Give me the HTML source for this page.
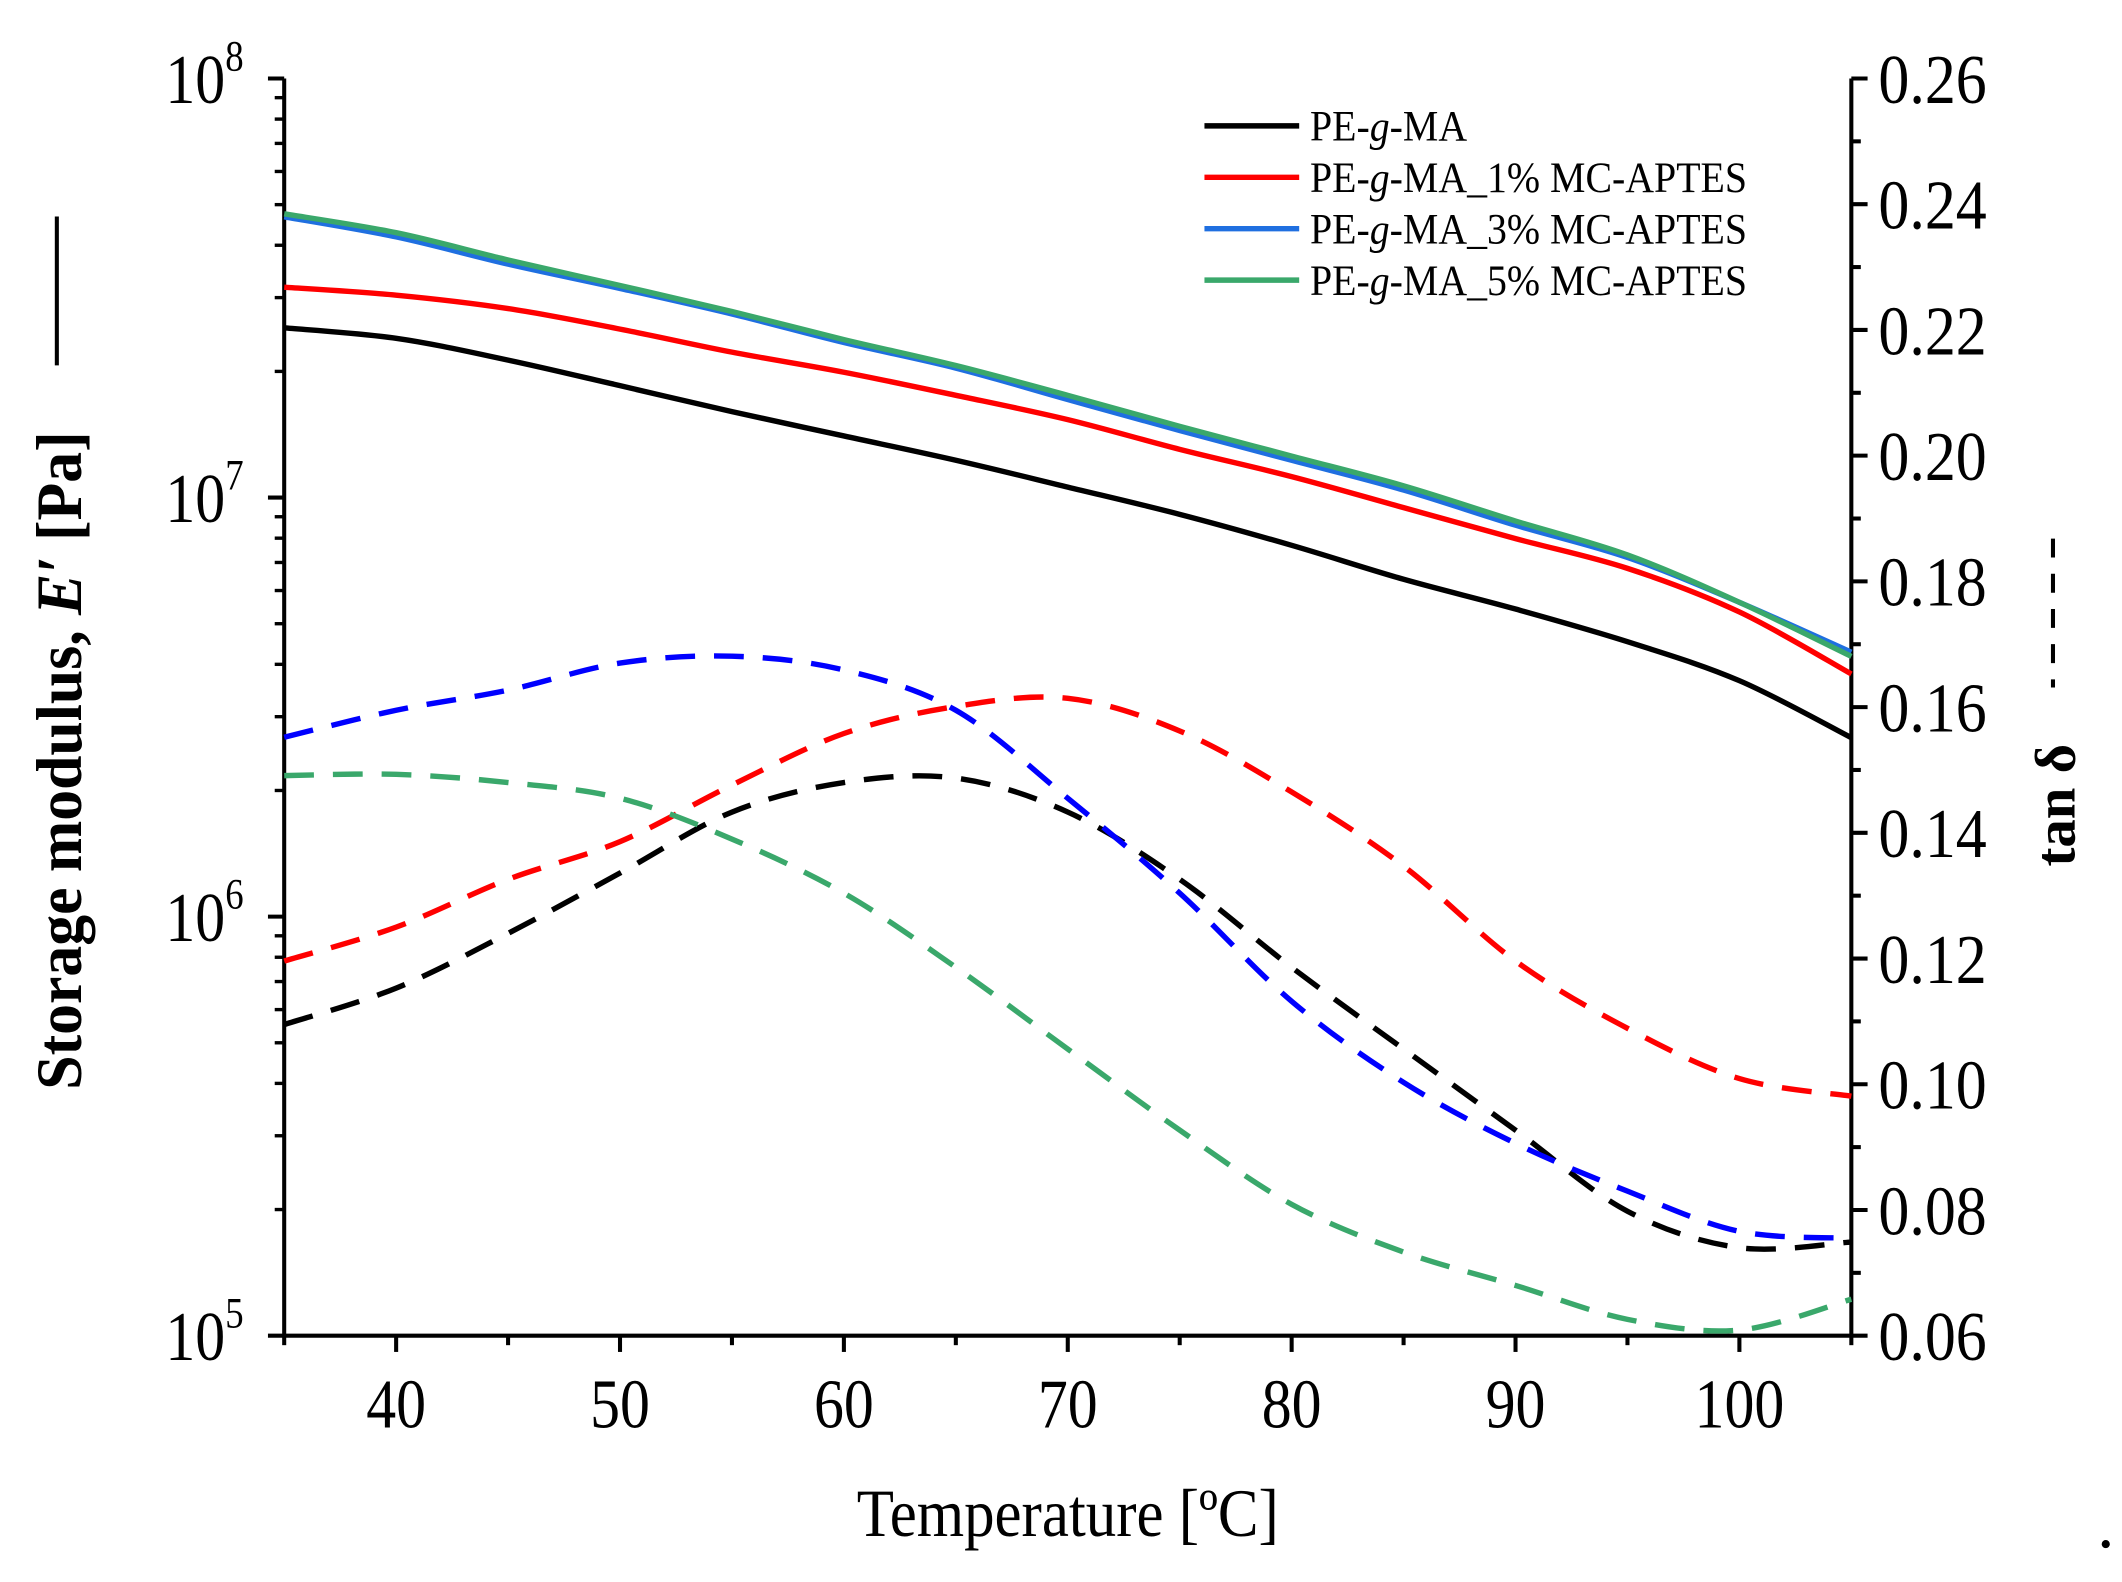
<!DOCTYPE html>
<html><head><meta charset="utf-8"><style>html,body{margin:0;padding:0;background:#fff}svg{display:block}</style></head>
<body>
<svg id="chart" width="2122" height="1582" viewBox="0 0 1568 1169" preserveAspectRatio="none" xmlns="http://www.w3.org/2000/svg" font-family="'Liberation Serif', serif">
<g id="axes"></g>
<g id="series"></g>
<text transform="translate(789,1135) scale(0.9,1)" font-size="50" text-anchor="middle">Temperature [ºC]</text>
<text transform="translate(60,562) rotate(-90) scale(0.95,1)" font-size="48" font-weight="bold" text-anchor="middle">Storage modulus, <tspan font-style="italic">E′</tspan> [Pa]</text>
<line x1="42" y1="160" x2="42" y2="270" stroke="#000" stroke-width="3"/>
<text transform="translate(1533,595) rotate(-90)" font-size="42" font-weight="bold" text-anchor="middle">tan δ</text>
<line x1="1517" y1="398" x2="1517" y2="508" stroke="#000" stroke-width="3" stroke-dasharray="14,12"/>
<circle cx="1556" cy="1141" r="3" fill="#000"/>
<g id="legend"></g>
</svg>
<script>
const temps = [35,40,45,50,55,60,65,70,75,80,85,90,95,100,105];
const seriesNames = ["PE-g-MA","PE-g-MA_1% MC-APTES","PE-g-MA_3% MC-APTES","PE-g-MA_5% MC-APTES"];
const logModulusBlack = [7.405,7.380,7.328,7.267,7.205,7.147,7.089,7.025,6.960,6.886,6.805,6.734,6.656,6.563,6.427];
const logModulusRed   = [7.502,7.483,7.451,7.402,7.347,7.299,7.244,7.186,7.115,7.050,6.976,6.902,6.831,6.727,6.579];
const logModulusBlue  = [7.670,7.622,7.557,7.499,7.438,7.370,7.309,7.234,7.160,7.089,7.018,6.934,6.857,6.750,6.631];
const logModulusGreen = [7.677,7.632,7.567,7.506,7.444,7.377,7.315,7.244,7.170,7.099,7.028,6.944,6.863,6.750,6.621];
const tanBlack = [0.1095,0.1153,0.1240,0.1336,0.1433,0.1480,0.1487,0.1433,0.1326,0.1186,0.1056,0.0927,0.0798,0.0740,0.0749];
const tanRed   = [0.1196,0.1250,0.1326,0.1386,0.1476,0.1558,0.1601,0.1614,0.1562,0.1465,0.1347,0.1196,0.1089,0.1009,0.0981];
const tanBlue  = [0.1552,0.1595,0.1627,0.1670,0.1681,0.1659,0.1595,0.1455,0.1304,0.1132,0.1003,0.0906,0.0830,0.0766,0.0755];
const tanGreen = [0.1491,0.1493,0.1480,0.1455,0.1390,0.1304,0.1186,0.1056,0.0927,0.0809,0.0733,0.0680,0.0626,0.0609,0.0658];
const xTicks = [40,50,60,70,80,90,100];
const rightTicks = [0.06,0.08,0.10,0.12,0.14,0.16,0.18,0.20,0.22,0.24,0.26];
const leftExps = [5,6,7,8];
const colors = ["#000000","#ff0000","#1f6fe0","#3aa86b"];
const dashColors = ["#000000","#ff0000","#0000ff","#3aa86b"];

const L=210,R=1368,T=58,B=987;
const xS=t=>L+(t-35)/(105-35)*(R-L);
const yL=lg=>B-(lg-5)/3*(B-T);
const yR=v=>B-(v-0.06)/0.2*(B-T);
const NS="http://www.w3.org/2000/svg";
function mk(tag,attrs,parent){const e=document.createElementNS(NS,tag);for(const k in attrs)e.setAttribute(k,attrs[k]);parent.appendChild(e);return e;}
const axes=document.getElementById('axes');
let a=mk('line',{x1:L,y1:T,x2:L,y2:B,stroke:'#000','stroke-width':3},axes);


a=mk('line',{x1:R,y1:T,x2:R,y2:B,stroke:'#000','stroke-width':3},axes);


a=mk('line',{x1:L,y1:B,x2:R,y2:B,stroke:'#000','stroke-width':3},axes);


for(let t=35;t<=105;t+=5){const maj=xTicks.includes(t);
 const e=mk('line',{x1:xS(t),y1:B,x2:xS(t),y2:B+(maj?12:7),stroke:'#000','stroke-width':3},axes);
 
 
 if(maj){const tx=mk('text',{transform:'translate('+xS(t)+','+(B+68)+') scale(0.85,1)','font-size':52,'text-anchor':'middle'},axes);tx.textContent=t;
 
 }}
leftExps.forEach(ex=>{
 const e=mk('line',{x1:L-12,y1:yL(ex),x2:L,y2:yL(ex),stroke:'#000','stroke-width':3},axes);
 
 
 const tx=mk('text',{transform:'translate('+(L-30)+','+(yL(ex)+18)+') scale(0.85,1)','font-size':52,'text-anchor':'end'},axes);
 
 
 tx.innerHTML='10<tspan font-size="32" dy="-24">'+ex+'</tspan>';
 if(ex<8)for(let m=2;m<=9;m++){const y=yL(ex+Math.log10(m));
  const me=mk('line',{x1:L-7,y1:y,x2:L,y2:y,stroke:'#000','stroke-width':2.5},axes);
  
  }
});
for(let i=0;i<=20;i++){const v=0.06+i*0.01;const maj=i%2===0;
 const e=mk('line',{x1:R,y1:yR(v),x2:R+(maj?12:7),y2:yR(v),stroke:'#000','stroke-width':3},axes);
 
 }
rightTicks.forEach(v=>{const tx=mk('text',{transform:'translate('+(R+20)+','+(yR(v)+18)+') scale(0.88,1)','font-size':52},axes);tx.textContent=v.toFixed(2);
 
 });
function pathFrom(pts){let d='M'+pts[0][0]+','+pts[0][1];
 for(let i=0;i<pts.length-1;i++){const p0=pts[i-1]||pts[i],p1=pts[i],p2=pts[i+1],p3=pts[i+2]||p2;
  const c1=[p1[0]+(p2[0]-p0[0])/6,p1[1]+(p2[1]-p0[1])/6],c2=[p2[0]-(p3[0]-p1[0])/6,p2[1]-(p3[1]-p1[1])/6];
  d+=' C'+c1+' '+c2+' '+p2;}return d;}
const sg=document.getElementById('series');
const solids=[logModulusBlack,logModulusRed,logModulusBlue,logModulusGreen];
const dashes=[tanBlack,tanRed,tanBlue,tanGreen];
const keys=['black','red','blue','green'];
dashes.forEach((arr,i)=>{const p=mk('path',{d:pathFrom(temps.map((t,j)=>[xS(t),yR(arr[j])])),fill:'none',stroke:dashColors[i],'stroke-width':4,'stroke-dasharray':'22,14'},sg);
 
 });
solids.forEach((arr,i)=>{const p=mk('path',{d:pathFrom(temps.map((t,j)=>[xS(t),yL(arr[j])])),fill:'none',stroke:colors[i],'stroke-width':4},sg);
 
 });
const lg=document.getElementById('legend');
seriesNames.forEach((n,i)=>{const y=93+i*38;
 const l=mk('line',{x1:890,y1:y,x2:960,y2:y,stroke:colors[i],'stroke-width':4},lg);
 
 
 const tx=mk('text',{transform:'translate(968,'+(y+11)+') scale(0.92,1)','font-size':32},lg);
 
 
 const parts=n.split('g');
 tx.innerHTML=parts[0]+'<tspan font-style="italic">g</tspan>'+parts.slice(1).join('g');
});
</script>
</body></html>
